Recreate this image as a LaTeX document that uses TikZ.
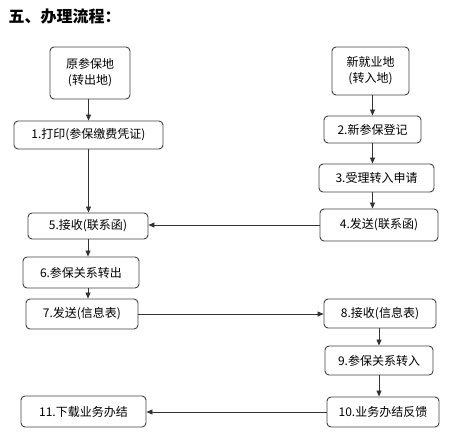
\documentclass[tikz,border=0pt]{standalone}
\usepackage{fontspec}
\setmainfont{Noto Sans CJK SC}
\usetikzlibrary{arrows.meta,positioning}

\begin{document}
\begin{tikzpicture}[
  x=1pt,y=-1pt,
  box/.style={draw=black!75,line width=0.9pt,rounded corners=4pt,inner sep=0pt,align=center,font=\fontsize{12}{16}\selectfont},
  flow/.style={line width=0.8pt,black!80,-{Triangle[length=6pt,width=5pt]}}
]
  \useasboundingbox (0,0) rectangle (454,433);
  \node[anchor=west,font=\fontsize{16}{18}\selectfont\bfseries] (title) at (5,16) {五、办理流程：};

  % left column
  \node[box,minimum width=80pt,minimum height=52pt] (orig) at (90,73) {原参保地\\(转出地)};
  \node[box,minimum width=149pt,minimum height=28pt] (s1) at (88.5,135) {1.打印(参保缴费凭证)};
  \node[box,minimum width=120pt,minimum height=26pt] (s5) at (88,226) {5.接收(联系函)};
  \node[box,minimum width=116pt,minimum height=31pt] (s6) at (81,272.5) {6.参保关系转出};
  \node[box,minimum width=112pt,minimum height=30pt] (s7) at (82,314) {7.发送(信息表)};
  \node[box,minimum width=125pt,minimum height=31pt] (s11) at (83.5,411.5) {11.下载业务办结};

  % right column
  \node[box,minimum width=77pt,minimum height=48pt] (dest) at (370.5,71) {新就业地\\(转入地)};
  \node[box,minimum width=97pt,minimum height=27pt] (s2) at (372.5,129.5) {2.新参保登记};
  \node[box,minimum width=115pt,minimum height=28pt] (s3) at (376.5,178) {3.受理转入申请};
  \node[box,minimum width=118pt,minimum height=32pt] (s4) at (379,225) {4.发送(联系函)};
  \node[box,minimum width=112pt,minimum height=29pt] (s8) at (380,313.5) {8.接收(信息表)};
  \node[box,minimum width=108pt,minimum height=29pt] (s9) at (379,360.5) {9.参保关系转入};
  \node[box,minimum width=112pt,minimum height=30pt] (s10) at (383,412) {10.业务办结反馈};

  \draw[flow] (orig.south -| s1.north) -- (s1.north);
  \draw[flow] (s1.south) -- (s1.south |- s5.north);
  \draw[flow] (s5.south) -- (s5.south |- s6.north);
  \draw[flow] (s6.south -| s5.south) -- (s7.north -| s5.south);

  \draw[flow] (dest.south -| s2.north) -- (s2.north);
  \draw[flow] (s2.south) -- (s2.south |- s3.north);
  \draw[flow] (s3.south -| s2.south) -- (s4.north -| s2.south);
  \draw[flow] (s8.south -| s9.north) -- (s9.north);
  \draw[flow] (s9.south) -- (s9.south |- s10.north);

  \draw[flow] (s4.west) -- (s4.west -| s5.east);
  \draw[flow] (s7.east) -- (s7.east -| s8.west);
  \draw[flow] (s10.west) -- (s10.west -| s11.east);
\end{tikzpicture}
\end{document}
